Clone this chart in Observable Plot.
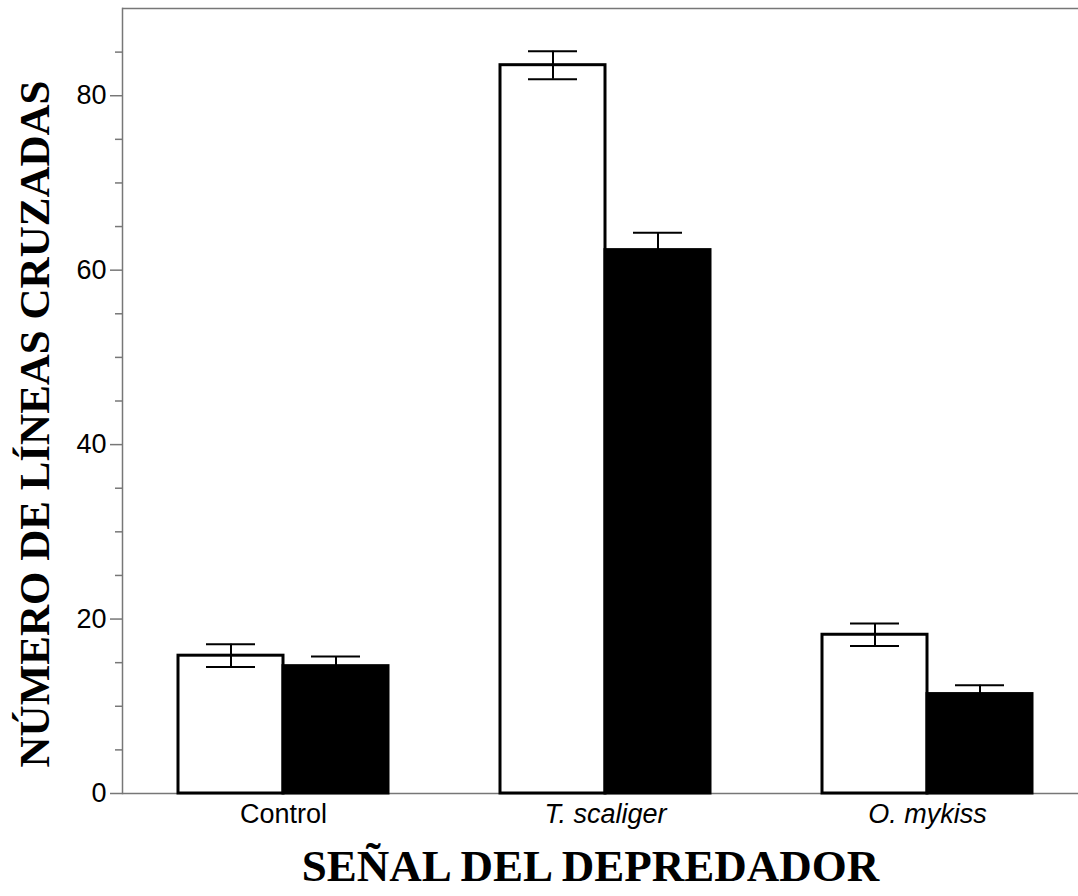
<!DOCTYPE html>
<html>
<head>
<meta charset="utf-8">
<script src="https://cdn.jsdelivr.net/npm/d3@7"></script>
<script src="https://cdn.jsdelivr.net/npm/@observablehq/plot@0.6"></script>
<style>
  html, body { margin: 0; padding: 0; background: #fff; overflow: hidden; }
</style>
</head>
<body>
<div id="chart"></div>
<script>
const groups = ["Control", "T. scaliger", "O. mykiss"];
const series = ["abierto", "relleno"];
const meanOpen = [15.8, 83.5, 18.2];
const seOpen = [1.3, 1.6, 1.3];
const meanFilled = [14.6, 62.3, 11.4];
const seFilled = [1.1, 2.0, 1.0];
const majorTicks = [0, 20, 40, 60, 80];
const minorTicks = [5, 10, 15, 25, 30, 35, 45, 50, 55, 65, 70, 75, 85];
const xTitle = "SEÑAL DEL DEPREDADOR";
const yTitle = "NÚMERO DE LÍNEAS CRUZADAS";

const rows = [];
groups.forEach((g, i) => {
  rows.push({group: g, series: series[0], mean: meanOpen[i], lo: meanOpen[i] - seOpen[i], hi: meanOpen[i] + seOpen[i]});
  rows.push({group: g, series: series[1], mean: meanFilled[i], lo: meanFilled[i] - seFilled[i], hi: meanFilled[i] + seFilled[i]});
});

const axisColor = "#777";
const titleFont = "'Liberation Serif', 'Times New Roman', serif";
const chart = Plot.plot({
  width: 1078,
  height: 896,
  marginLeft: 121,
  marginRight: -11,
  marginTop: 8,
  marginBottom: 103,
  style: {fontFamily: "'Liberation Sans', Arial, sans-serif", background: "white", color: "black"},
  fx: {domain: groups, padding: 0, label: null},
  x: {domain: series, paddingInner: 0, paddingOuter: 0.52, axis: null},
  y: {domain: [0, 90], label: null},
  color: {domain: series, range: ["white", "black"]},
  marks: [
    Plot.ruleY([0], {stroke: axisColor, strokeWidth: 1.5}),
    Plot.ruleY([90], {stroke: axisColor, strokeWidth: 1.5}),
    Plot.frame({anchor: "left", facetAnchor: "left", stroke: axisColor, strokeWidth: 1.5}),
    Plot.axisY({ticks: majorTicks, tickSize: 12, tickPadding: 4, fontSize: 27, stroke: axisColor, strokeWidth: 1.5, label: null}),
    Plot.axisY({ticks: minorTicks, tickSize: 7, text: null, stroke: axisColor, strokeWidth: 1.5, label: null}),
    Plot.axisFx({ticks: ["Control"], anchor: "bottom", tickSize: 0, tickPadding: 10, fontSize: 27, label: null}),
    Plot.axisFx({ticks: ["T. scaliger", "O. mykiss"], anchor: "bottom", tickSize: 0, tickPadding: 10, fontSize: 27, fontStyle: "italic", label: null}),
    Plot.barY(rows, {fx: "group", x: "series", y: "mean", fill: "series", stroke: "black", strokeWidth: 3}),
    Plot.ruleX(rows, {fx: "group", x: "series", y1: "lo", y2: "hi", stroke: "black", strokeWidth: 2}),
    Plot.tickY(rows, {fx: "group", x: "series", y: "hi", insetLeft: 28, insetRight: 28, stroke: "black", strokeWidth: 2}),
    Plot.tickY(rows, {fx: "group", x: "series", y: "lo", insetLeft: 28, insetRight: 28, stroke: "black", strokeWidth: 2}),
    Plot.text([xTitle], {fx: () => "T. scaliger", frameAnchor: "bottom", textAnchor: "middle", lineAnchor: "middle",
      dy: 73, dx: -15, text: d => d,
      fontFamily: titleFont, fontWeight: "bold", fontSize: 45, fill: "black"}),
    Plot.text([yTitle], {fx: () => "Control", frameAnchor: "left", textAnchor: "middle", lineAnchor: "middle",
      rotate: -90, dx: -87, dy: 23, text: d => d,
      fontFamily: titleFont, fontWeight: "bold", fontSize: 43, fill: "black"})
  ]
});
document.getElementById("chart").appendChild(chart);
</script>
</body>
</html>
